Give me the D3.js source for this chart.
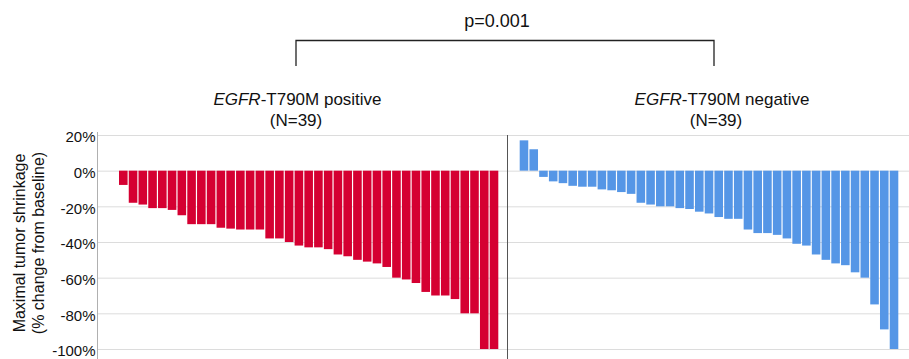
<!doctype html>
<html lang="en">
<head>
  <meta charset="utf-8">
  <title>Tumor shrinkage waterfall</title>
  <style>
    body { margin: 0; background: #fff; }
    svg { display: block; font-family: "Liberation Sans", Arial, Helvetica, sans-serif; }
    .grid line { stroke: #dcdcdc; }
    .grid path { display: none; }
  </style>
</head>
<body>
  <div id="chart"></div>
  <script src="https://cdn.jsdelivr.net/npm/d3@7/dist/d3.min.js"></script>
  <script>
// values, sorted as in the figure
var positiveVals = [-8, -18, -19, -21, -21, -22, -25, -30, -30, -30, -32, -32.5, -33, -33, -33,
  -38, -38, -40, -42, -43, -43, -44, -47, -48, -50, -51, -52, -54, -60, -61, -63, -68, -70, -70,
  -72, -80, -80, -100, -100];
var negativeVals = [17, 12, -3.5, -6, -7, -8.5, -9, -9, -10.5, -11, -12, -13, -18, -19, -20, -20,
  -21, -21.5, -23, -24, -26, -27, -27, -33, -35, -35, -36, -38, -41, -42, -47, -50, -52, -53,
  -57, -60, -75, -89, -100];
var yTicks = [20, 0, -20, -40, -60, -80, -100];
var groupLabels = ["positive", "negative"];
var groupN = [39, 39];
var pValue = "p=0.001";

(function(){
  var width = 909, height = 359;
  var axisX = 97.5, dividerX = 507.5;

  var svg = d3.select("#chart").append("svg")
      .attr("width", width)
      .attr("height", height);

  var y = d3.scaleLinear().domain([20, -100]).range([135, 349]);

  // horizontal gridlines across both panels
  svg.append("g")
      .attr("class", "grid")
      .attr("transform", "translate(" + axisX + ",0)")
      .call(d3.axisRight(y).tickValues(yTicks).tickSize(width - axisX).tickFormat(""));

  // y tick labels
  var yAxis = svg.append("g")
      .attr("transform", "translate(" + (axisX - 2) + ",0)")
      .call(d3.axisLeft(y).tickValues(yTicks).tickSize(0).tickPadding(0)
        .tickFormat(function(d){ return d + "%"; }));
  yAxis.select(".domain").remove();
  yAxis.selectAll("text")
      .attr("font-size", 15)
      .attr("font-family", "Liberation Sans, Arial, sans-serif")
      .attr("fill", "#111")
      .attr("dy", "0.45em");

  // left axis line and panel divider
  svg.append("line")
      .attr("x1", axisX).attr("x2", axisX)
      .attr("y1", 132).attr("y2", height)
      .attr("stroke", "#b0b0b0");
  svg.append("line")
      .attr("x1", dividerX).attr("x2", dividerX)
      .attr("y1", 135).attr("y2", height)
      .attr("stroke", "#555");

  var xPos = d3.scaleBand().domain(d3.range(positiveVals.length))
      .range([119, 498.3]).paddingInner(0.12).paddingOuter(0);
  var xNeg = d3.scaleBand().domain(d3.range(negativeVals.length))
      .range([519.7, 898.3]).paddingInner(0.12).paddingOuter(0);

  function drawBars(vals, x, color) {
    svg.append("g").selectAll("rect")
      .data(vals)
      .enter().append("rect")
        .attr("x", function(d, i){ return x(i); })
        .attr("width", x.bandwidth())
        .attr("y", function(d){ return y(Math.max(0, d)); })
        .attr("height", function(d){ return Math.abs(y(d) - y(0)); })
        .attr("fill", color);
  }
  drawBars(positiveVals, xPos, "#d50032");
  drawBars(negativeVals, xNeg, "#5596e6");

  // group titles
  var centers1 = [297.5, 722], centers2 = [296, 716];
  groupLabels.forEach(function(lbl, i){
    var t = svg.append("text")
        .attr("x", centers1[i]).attr("y", 105)
        .attr("text-anchor", "middle")
        .attr("font-size", 17)
        .attr("fill", "#111");
    t.append("tspan").attr("font-style", "italic").text("EGFR");
    t.append("tspan").text("-T790M " + lbl);
    svg.append("text")
        .attr("x", centers2[i]).attr("y", 126)
        .attr("text-anchor", "middle")
        .attr("font-size", 17)
        .attr("fill", "#111")
        .text("(N=" + groupN[i] + ")");
  });

  // significance bracket
  svg.append("path")
      .attr("d", d3.line()([[296, 66], [296, 40.5], [714, 40.5], [714, 66]]))
      .attr("fill", "none")
      .attr("stroke", "#222")
      .attr("stroke-width", 1.3);
  svg.append("text")
      .attr("x", 497).attr("y", 27)
      .attr("text-anchor", "middle")
      .attr("font-size", 18)
      .attr("fill", "#111")
      .text(pValue);

  // y axis title
  var yt = svg.append("text")
      .attr("transform", "translate(0,243) rotate(-90)")
      .attr("text-anchor", "middle")
      .attr("font-size", 16)
      .attr("fill", "#111");
  yt.append("tspan").attr("x", 0).attr("y", 25).text("Maximal tumor shrinkage");
  yt.append("tspan").attr("x", 0).attr("y", 44).text("(% change from baseline)");
})();
  </script>
</body>
</html>
